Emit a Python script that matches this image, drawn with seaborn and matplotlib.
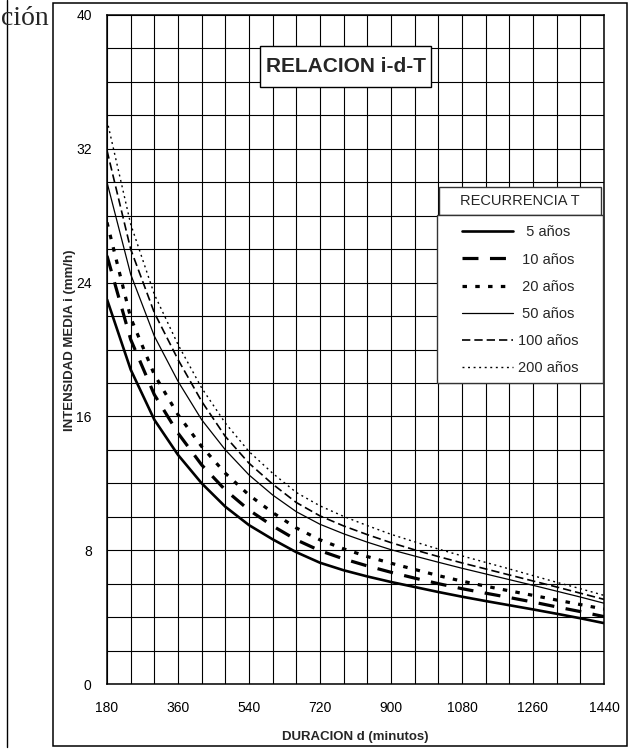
import matplotlib
matplotlib.use("Agg")
import matplotlib.pyplot as plt
from matplotlib.patches import Rectangle
from matplotlib.lines import Line2D
from matplotlib.ticker import MultipleLocator
import numpy as np
import pandas as pd
import seaborn as sns

# Duration (minutes) and mean intensity (mm/h) for each return period
duracion = [180, 240, 300, 360, 420, 480, 540, 600, 660, 720, 780, 840,
            900, 960, 1020, 1080, 1140, 1200, 1260, 1320, 1380, 1440]
i_5 = [23.0, 18.8, 15.8, 13.7, 12.0, 10.6, 9.5, 8.65, 7.88, 7.25, 6.8, 6.43,
       6.1, 5.8, 5.5, 5.22, 4.96, 4.71, 4.46, 4.2, 3.93, 3.64]
i_10 = [25.6, 20.6, 17.3, 15.0, 13.1, 11.6, 10.4, 9.45, 8.62, 7.97, 7.48, 7.06,
        6.68, 6.33, 6.0, 5.7, 5.43, 5.17, 4.9, 4.61, 4.33, 4.03]
i_20 = [27.6, 21.9, 18.5, 16.1, 14.2, 12.6, 11.3, 10.25, 9.33, 8.62, 8.08, 7.62,
        7.22, 6.85, 6.48, 6.15, 5.85, 5.57, 5.3, 5.02, 4.75, 4.48]
i_50 = [30.0, 24.5, 20.8, 18.1, 15.8, 14.0, 12.5, 11.3, 10.3, 9.55, 8.98, 8.48,
        8.03, 7.65, 7.28, 6.92, 6.58, 6.24, 5.9, 5.55, 5.2, 4.83]
i_100 = [31.9, 26.0, 22.2, 19.4, 16.9, 14.8, 13.2, 11.95, 10.85, 10.05, 9.45, 8.93,
         8.45, 8.02, 7.62, 7.24, 6.88, 6.52, 6.16, 5.8, 5.43, 5.06]
i_200 = [33.7, 27.5, 23.3, 20.3, 17.7, 15.6, 13.9, 12.6, 11.45, 10.65, 10.02, 9.47,
         8.95, 8.5, 8.07, 7.66, 7.27, 6.88, 6.48, 6.08, 5.7, 5.3]

etiquetas = ["5 años", "10 años", "20 años", "50 años", "100 años", "200 años"]
series = [i_5, i_10, i_20, i_50, i_100, i_200]

x_ticks = [180, 360, 540, 720, 900, 1080, 1260, 1440]
y_ticks = [0, 8, 16, 24, 32, 40]

# line width (pt) and dash pattern for each return period
estilos = {
    "5 años":   dict(lw=1.9, ls="-"),
    "10 años":  dict(lw=2.3, ls=(0, (5.0, 3.6))),
    "20 años":  dict(lw=2.3, ls=(0, (1.4, 2.6))),
    "50 años":  dict(lw=0.9, ls="-"),
    "100 años": dict(lw=1.2, ls=(0, (5.0, 2.4))),
    "200 años": dict(lw=1.0, ls=(0, (1.4, 2.6))),
}

df = pd.DataFrame({"d": duracion * len(series),
                   "i": np.concatenate(series),
                   "T": np.repeat(etiquetas, len(duracion))})

sns.set_theme(style="white")
plt.rcParams["font.family"] = ["Liberation Sans", "DejaVu Sans"]

fig = plt.figure(figsize=(6.29, 7.5), dpi=100)
ax = fig.add_axes([107 / 629, 66 / 750, 497 / 629, 669 / 750])

for t in etiquetas:
    sub = df[df["T"] == t]
    st = estilos[t]
    sns.lineplot(data=sub, x="d", y="i", ax=ax, color="black",
                 linewidth=st["lw"], linestyle=st["ls"], label=t,
                 legend=False, zorder=3)
for ln in ax.lines:
    ln.set_solid_capstyle("butt")
    ln.set_dash_capstyle("butt")
    ln.set_solid_joinstyle("round")

ax.set_xlim(180, 1440)
ax.set_ylim(0, 40)
ax.set_xticks(x_ticks)
ax.set_yticks(y_ticks)
ax.xaxis.set_minor_locator(MultipleLocator(60))
ax.yaxis.set_minor_locator(MultipleLocator(2))
ax.grid(which="both", color="black", linewidth=0.8)
ax.tick_params(axis="both", which="major", direction="out", length=4,
               width=1.2, color="black", labelsize=10, labelcolor="black")
ax.tick_params(axis="x", which="major", pad=8)
ax.tick_params(axis="y", which="major", pad=7)
ax.tick_params(which="minor", length=0)
for s in ax.spines.values():
    s.set_color("black")
    s.set_linewidth(1.1)

ax.set_xlabel("DURACION d (minutos)", fontsize=9.5, fontweight="bold")
ax.set_ylabel("INTENSIDAD MEDIA i (mm/h)", fontsize=9.5, fontweight="bold")
ax.xaxis.set_label_coords(0.5, -0.07)
ax.yaxis.set_label_coords(-0.063, 0.514)

# chart title box
ax.add_patch(Rectangle((0.3078, 0.8924), 0.344, 0.0613, transform=ax.transAxes,
                       facecolor="white", edgecolor="black", linewidth=1.0,
                       zorder=5, clip_on=False))
ax.text(0.48, 0.923, "RELACION i-d-T", transform=ax.transAxes, ha="center",
        va="center", fontsize=15, fontweight="bold", zorder=6)

# legend title box and legend body
ax.add_patch(Rectangle((0.668, 0.701), 0.326, 0.0419, transform=ax.transAxes,
                       facecolor="white", edgecolor="#333333", linewidth=1.0,
                       zorder=5, clip_on=False))
ax.text(0.831, 0.7225, "RECURRENCIA T", transform=ax.transAxes, ha="center",
        va="center", fontsize=10.5, zorder=6)
ax.add_patch(Rectangle((0.664, 0.45), 0.334, 0.251, transform=ax.transAxes,
                       facecolor="white", edgecolor="#333333", linewidth=1.0,
                       zorder=5, clip_on=False))

pad_lbl = {"5 años": "  5 años", "10 años": " 10 años", "20 años": " 20 años",
           "50 años": " 50 años", "100 años": "100 años", "200 años": "200 años"}
handles = [Line2D([], [], color="black", linewidth=estilos[t]["lw"],
                  linestyle=estilos[t]["ls"], dash_capstyle="butt")
           for t in etiquetas]
leg = ax.legend(handles, [pad_lbl[t] for t in etiquetas], loc="upper left",
                bbox_to_anchor=(0.7143, 0.6855), borderaxespad=0, borderpad=0,
                frameon=False, fontsize=10.5, handlelength=3.5,
                handletextpad=0.35, labelspacing=0.9)
leg.set_zorder(7)

# outer frame and page fragments
fig.add_artist(Rectangle((53 / 629, 4 / 750), 574 / 629, 743 / 750,
                         transform=fig.transFigure, fill=False,
                         edgecolor="black", linewidth=1.1))
fig.add_artist(Line2D([7 / 629, 7 / 629], [3 / 750, 1.0],
                      transform=fig.transFigure, color="black", linewidth=1.0))
fig.text(49 / 629, (750 - 25) / 750, "ción", family="Liberation Serif",
         fontsize=20, ha="right", va="baseline")

fig.savefig("out.png", dpi=100, facecolor="white")
